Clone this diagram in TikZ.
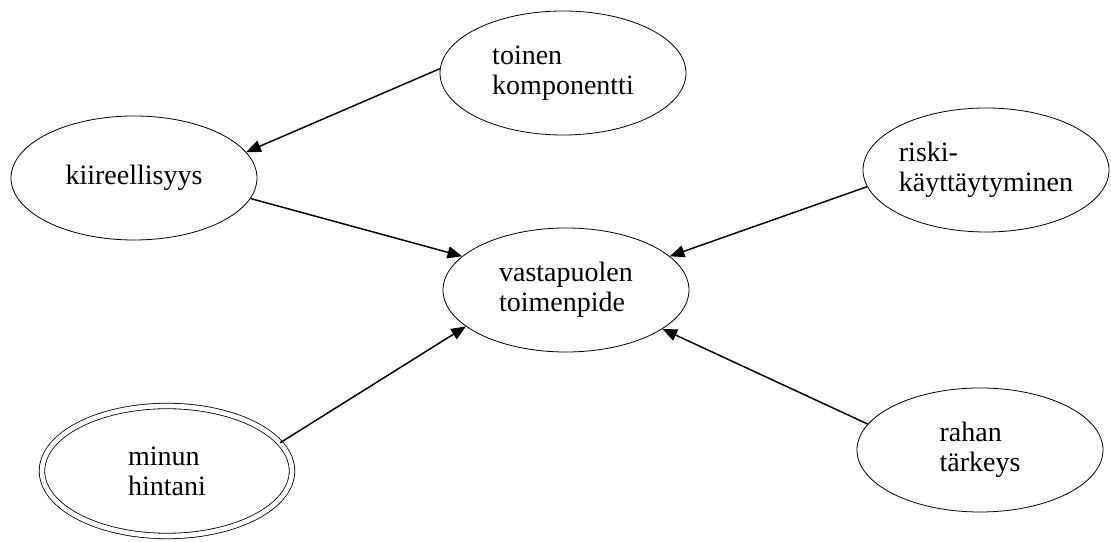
\documentclass[tikz,border=0pt]{standalone}
\usepackage{fontspec}
\setmainfont{Liberation Serif}
\usetikzlibrary{shapes.geometric,arrows.meta}
\begin{document}
\begin{tikzpicture}[x=0.75pt, y=0.75pt,
  oval/.style={draw, ellipse, line width=0.6pt, minimum width=184.5pt, minimum height=93pt, inner sep=0pt},
  txt/.style={align=left, font=\fontsize{21pt}{22.5pt}\selectfont},
  link/.style={-{Triangle[length=11pt, width=9pt]}, line width=1.1pt}]
\useasboundingbox (0,0) rectangle (1111,542);
\node[oval, label={[txt]center:toinen\\komponentti}] (toinen) at (563,469) {}; \node[oval, label={[txt]center:kiireellisyys}] (kiire) at (134,364) {};
\node[oval, label={[txt]center:vastapuolen\\toimenpide}] (vast) at (566,252) {}; \node[oval, label={[txt]center:riski-\\käyttäytyminen}] (riski) at (986,372) {};
\node[oval, double, double distance=3.5pt, minimum width=187.5pt, minimum height=97.5pt, label={[txt]center:minun\\hintani}] (minun) at (167,71) {};
\node[oval, label={[txt]center:rahan\\tärkeys}] (rahan) at (980,92) {};
\draw[link] (toinen.178) -- (kiire.13); \draw[link] (kiire.-10) -- (vast.162); \draw[link] (riski.188) -- (vast.18);
\draw[link] (minun.14) -- (vast.200); \draw[link] (rahan.167) -- (vast.-22);
\end{tikzpicture}
\end{document}
